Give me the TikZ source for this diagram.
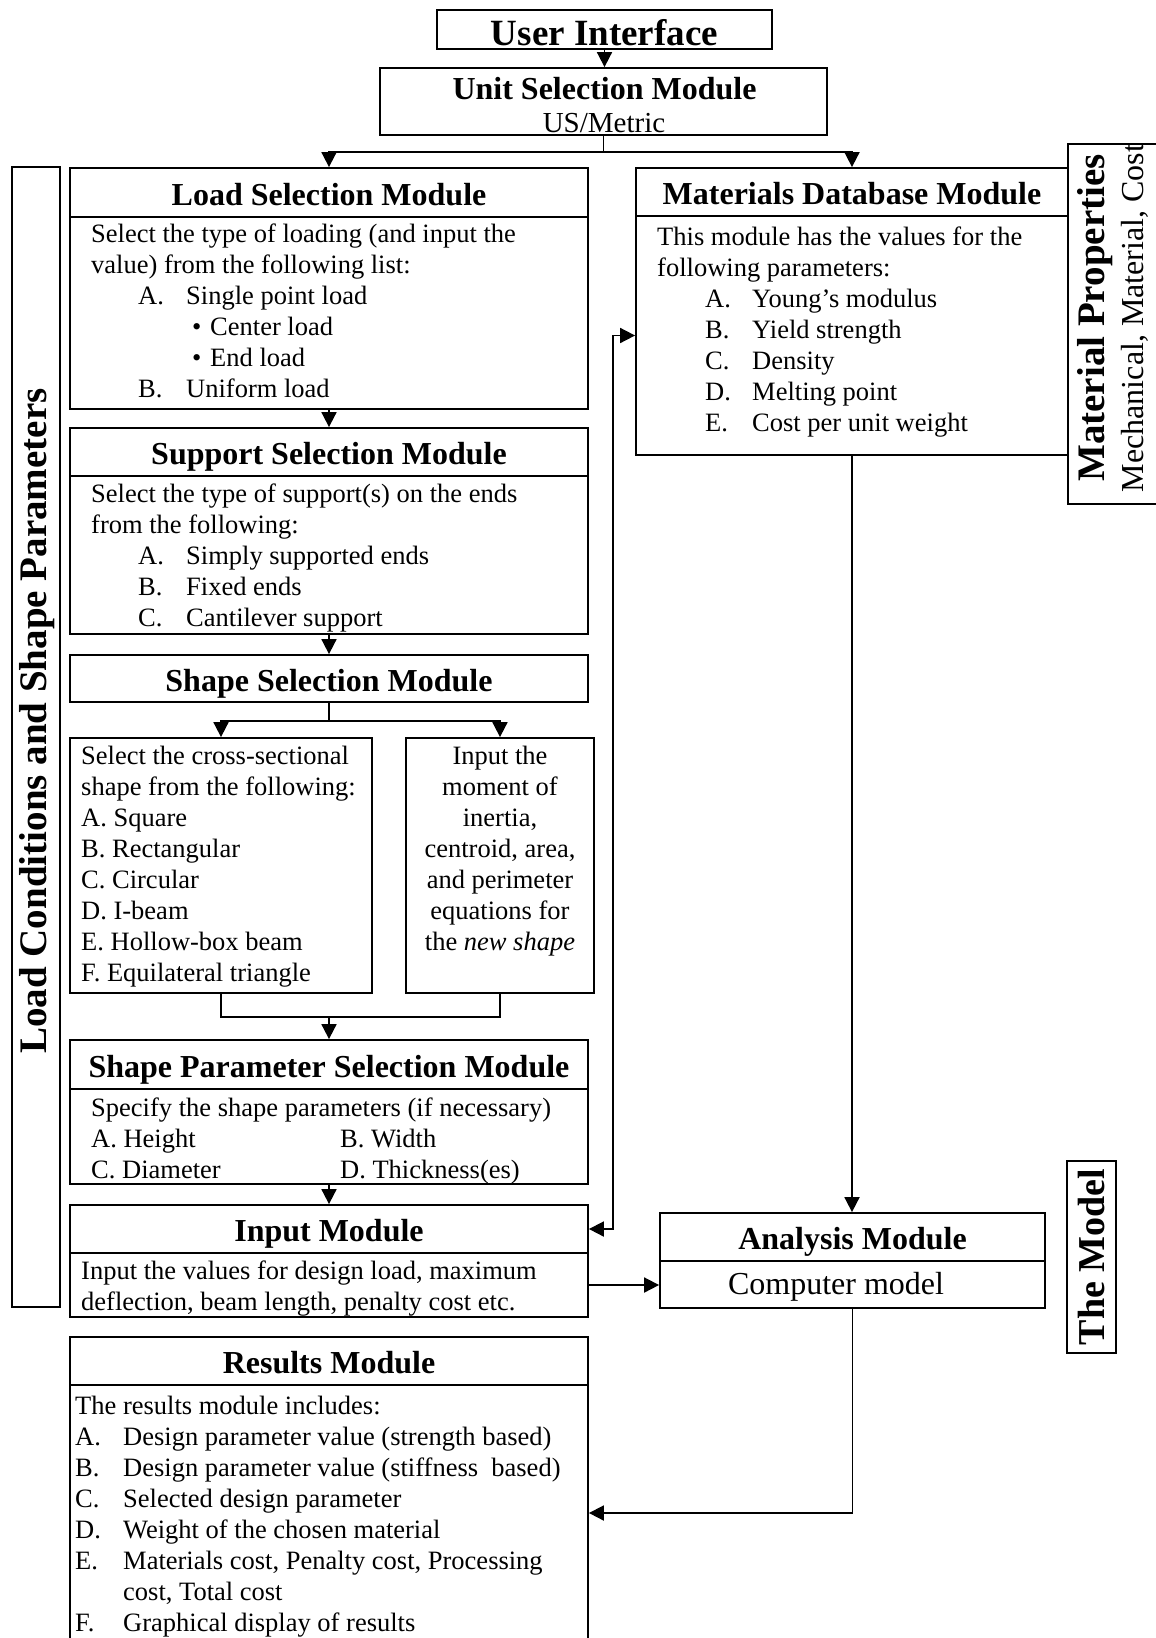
\documentclass[tikz,border=0pt]{standalone}
\usepackage{fontspec}
\setmainfont{Liberation Serif}
\usetikzlibrary{arrows.meta}
\newcommand{\leftrows}[1]{\begin{tabular}[t]{@{}l@{}}#1\end{tabular}}
\newcommand{\midrows}[1]{\begin{tabular}[t]{@{}c@{}}#1\end{tabular}}

\begin{document}
\begin{tikzpicture}[x=1pt,y=-1pt,
  box/.style={draw,line width=1.8pt,inner sep=0pt},
  hdr/.style={box,font=\fontsize{32}{36}\selectfont\bfseries,text height=25pt,text depth=0pt},
  txt/.style={inner sep=0pt,anchor=base west,font=\fontsize{26.5}{31}\selectfont},
  side/.style={inner sep=0pt,rotate=90,font=\fontsize{39}{42}\selectfont\bfseries},
  arr/.style={line width=1.8pt,-{Triangle[length=15pt,width=15pt]}},
  arrtwo/.style={line width=1.8pt,{Triangle[length=15pt,width=15pt]}-{Triangle[length=15pt,width=15pt]}}]
  \useasboundingbox (0,0) rectangle (1156,1638);
  \clip (0,0) rectangle (1156,1638);

  \node[hdr,font=\fontsize{37}{40}\selectfont\bfseries,text height=32pt,minimum width=335pt,minimum height=39pt] (ui) at (604.5,29.5) {User Interface};
  \node[box,minimum width=447pt,minimum height=67pt] (unit) at (603.5,101.5) {};
  \node[inner sep=0pt,anchor=base,font=\fontsize{32}{36}\selectfont\bfseries] (unitt) at (604.5,99) {Unit Selection Module};
  \node[inner sep=0pt,anchor=base,font=\fontsize{29}{32}\selectfont] (units) at (604,132) {US/Metric};

  \node[box,minimum width=48pt,minimum height=1140pt] (lc) at (36,737) {};
  \node[side] (lct) at (37,721) {Load Conditions and Shape Parameters};

  \node[hdr,minimum width=518pt,minimum height=49pt] (loadh) at (329,192.5) {Load Selection Module};
  \node[box,minimum width=518pt,minimum height=192pt] (loadb) at (329,313) {};
  \node[txt] (loadt) at (91,242) {\leftrows{Select the type of loading (and input the\\
    value) from the following list:\\
    \hspace*{47pt}\makebox[48pt][l]{A.}Single point load\\
    \hspace*{101pt}\makebox[18pt][l]{\textbullet}Center load\\
    \hspace*{101pt}\makebox[18pt][l]{\textbullet}End load\\
    \hspace*{47pt}\makebox[48pt][l]{B.}Uniform load}};

  \node[hdr,minimum width=518pt,minimum height=48pt] (supph) at (329,452) {Support Selection Module};
  \node[box,minimum width=518pt,minimum height=158pt] (suppb) at (329,555) {};
  \node[txt] (suppt) at (91,502) {\leftrows{Select the type of support(s) on the ends\\
    from the following:\\
    \hspace*{47pt}\makebox[48pt][l]{A.}Simply supported ends\\
    \hspace*{47pt}\makebox[48pt][l]{B.}Fixed ends\\
    \hspace*{47pt}\makebox[48pt][l]{C.}Cantilever support}};

  \node[hdr,minimum width=518pt,minimum height=47pt] (shape) at (329,678.5) {Shape Selection Module};
  \node[box,minimum width=302pt,minimum height=255pt] (shl) at (221,865.5) {};
  \node[box,minimum width=188pt,minimum height=255pt] (shr) at (500,865.5) {};
  \node[txt] (shlt) at (81,764) {\leftrows{Select the cross-sectional\\
    shape from the following:\\
    A. Square\\
    B. Rectangular\\
    C. Circular\\
    D. I-beam\\
    E. Hollow-box beam\\
    F. Equilateral triangle}};
  \node[txt,anchor=base] (shrt) at (500,764) {\midrows{Input the\\
    moment of\\
    inertia,\\
    centroid, area,\\
    and perimeter\\
    equations for\\
    the \textit{new shape}}};

  \node[hdr,minimum width=518pt,minimum height=49pt] (sph) at (329,1064.5) {Shape Parameter Selection Module};
  \node[box,minimum width=518pt,minimum height=95pt] (spb) at (329,1136.5) {};
  \node[txt] (spt) at (91,1116) {\leftrows{Specify the shape parameters (if necessary)\\
    \makebox[249pt][l]{A. Height}B. Width\\
    \makebox[249pt][l]{C. Diameter}D. Thickness(es)}};

  \node[hdr,minimum width=518pt,minimum height=48pt] (inh) at (329,1229) {Input Module};
  \node[box,minimum width=518pt,minimum height=64pt] (inb) at (329,1285) {};
  \node[txt] (intx) at (81,1279) {\leftrows{Input the values for design load, maximum\\
    deflection, beam length, penalty cost etc.}};

  \node[hdr,minimum width=518pt,minimum height=48pt] (resh) at (329,1361) {Results Module};
  \node[box,minimum width=518pt,minimum height=256pt] (resb) at (329,1513) {};
  \node[txt] (rest) at (75,1414) {\leftrows{The results module includes:\\
    \makebox[48pt][l]{A.}Design parameter value (strength based)\\
    \makebox[48pt][l]{B.}Design parameter value (stiffness~ based)\\
    \makebox[48pt][l]{C.}Selected design parameter\\
    \makebox[48pt][l]{D.}Weight of the chosen material\\
    \makebox[48pt][l]{E.}Materials cost, Penalty cost, Processing\\
    \hspace*{48pt}cost, Total cost\\
    \makebox[48pt][l]{F.}Graphical display of results}};

  \node[hdr,minimum width=432pt,minimum height=48pt] (mdbh) at (852,192) {Materials Database Module};
  \node[box,minimum width=432pt,minimum height=239pt] (mdbb) at (852,335.5) {};
  \node[txt] (mdbt) at (657,245) {\leftrows{This module has the values for the\\
    following parameters:\\
    \hspace*{48pt}\makebox[47pt][l]{A.}Young's modulus\\
    \hspace*{48pt}\makebox[47pt][l]{B.}Yield strength\\
    \hspace*{48pt}\makebox[47pt][l]{C.}Density\\
    \hspace*{48pt}\makebox[47pt][l]{D.}Melting point\\
    \hspace*{48pt}\makebox[47pt][l]{E.}Cost per unit weight}};

  \node[box,minimum width=92pt,minimum height=360pt] (mp) at (1114,324) {};
  \node[side] (mpt) at (1095,318) {Material Properties};
  \node[side,font=\fontsize{32}{36}\selectfont] (mps) at (1135,318) {Mechanical, Material, Cost};

  \node[hdr,minimum width=385pt,minimum height=48pt] (anh) at (852.5,1237) {Analysis Module};
  \node[box,minimum width=385pt,minimum height=47pt] (anb) at (852.5,1284.5) {};
  \node[inner sep=0pt,anchor=base,font=\fontsize{32}{36}\selectfont] (ant) at (836,1294) {Computer model};

  \node[box,side,font=\fontsize{38}{41}\selectfont\bfseries,minimum width=192pt,minimum height=49pt] (model) at (1091.5,1257) {The Model};

  \draw[arr] (ui.south) -- (ui.south |- unit.north);
  \draw[arr] (unit.south) -- ++(0,16) -| (loadh.north);
  \draw[arr] (unit.south) -- ++(0,16) -| (mdbh.north);
  \draw[arr] (loadb.south) -- (supph.north);
  \draw[arr] (suppb.south) -- (shape.north);
  \draw[arr] (shape.south) -- ++(0,18) -| (shl.north);
  \draw[arr] (shape.south) -- ++(0,18) -| (shr.north);
  \coordinate (merge) at (329,1017);
  \draw[line width=1.8pt] (shl.south) |- (merge) -| (shr.south);
  \draw[arr] (merge) -- (sph.north);
  \draw[arr] (spb.south) -- (inh.north);
  \draw[arr] (inb.east) -- (inb.east -| anb.west);
  \draw[arr] (mdbb.south) -- (mdbb.south |- anh.north);
  \draw[arrtwo] (inh.east) -- ++(24,0) |- (mdbb.west);
  \draw[arr] (anb.south) |- (resb.east);
\end{tikzpicture}
\end{document}
